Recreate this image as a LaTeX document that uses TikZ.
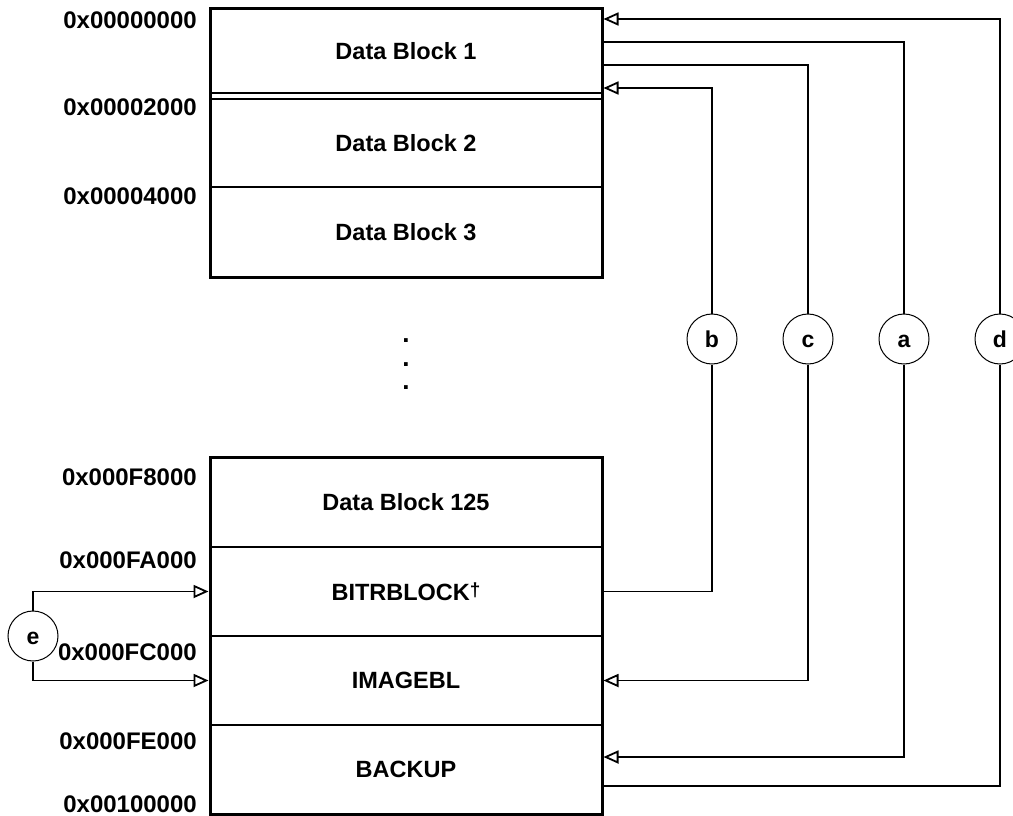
\documentclass[tikz,border=0pt]{standalone}
\usepackage{fontspec}
\setmainfont{Liberation Sans}
\usepackage{tikz}
\usetikzlibrary{positioning,calc,arrows.meta}

\tikzset{
	blk/.style={draw=black,line width=1.5pt,minimum width=392pt,inner sep=0pt,outer sep=0pt,font=\bfseries\fontsize{23.5}{27}\selectfont},
	addr/.style={anchor=east,inner sep=0pt,font=\bfseries\fontsize{24}{28}\selectfont},
	tag/.style={draw=black,circle,line width=1pt,minimum size=50pt,inner sep=0pt,text height=16pt,text depth=0pt,font=\bfseries\fontsize{23}{27}\selectfont},
	dot/.style={inner sep=0pt,font=\bfseries\fontsize{26}{26}\selectfont},
	frame/.style={line width=3pt},
	link/.style={line width=1.2pt},
	linkarr/.style={line width=1.2pt,-{Triangle[open,length=15pt,width=13pt,line width=1.8pt]}}
}

\begin{document}
\begin{tikzpicture}[x=1pt,y=-1pt]
		\useasboundingbox (0,0) rectangle (1013,816);
		
		\node[blk,minimum height=84pt,anchor=north west] (db1) at (210,9) {Data Block 1};
		\node[blk,minimum height=88pt,below=6pt of db1] (db2) {Data Block 2};
		\node[blk,minimum height=90pt,below=0pt of db2] (db3) {Data Block 3};
		
		\draw[frame] (db1.north west) rectangle (db3.south east);
		
		\node[dot] (dot1) at (406,341) {.};
		\node[dot,below=19pt of dot1] (dot2) {.};
		\node[dot,below=19pt of dot2] (dot3) {.};
		
		\node[blk,minimum height=90pt,anchor=north west] (db125) at (210,457) {Data Block 125};
		\node[blk,minimum height=89pt,below=0pt of db125] (bitr) {BITRBLOCK\raisebox{4pt}{\fontsize{19}{19}\selectfont\textdagger}};
		\node[blk,minimum height=89pt,below=0pt of bitr] (imgbl) {IMAGEBL};
		\node[blk,minimum height=89pt,below=0pt of imgbl] (backup) {BACKUP};
		
		\draw[frame] (db125.north west) rectangle (backup.south east);
		
		% addresses
		\node[addr] (ad0) at (197,20) {0x00000000};
		\node[addr] (ad1) at (197,107) {0x00002000};
		\node[addr] (ad2) at (197,196) {0x00004000};
		\node[addr] (ad3) at (197,477) {0x000F8000};
		\node[addr] (ad4) at (197,560) {0x000FA000};
		\node[addr] (ad5) at (197,652) {0x000FC000};
		\node[addr] (ad6) at (197,741) {0x000FE000};
		\node[addr] (ad7) at (197,804) {0x00100000};
		
		% tags
		\node[tag] (b) at (712,339) {b};
		\node[tag] (c) at (808,339) {c};
		\node[tag] (a) at (904,339) {a};
		\node[tag] (d) at (1000,339) {d};
		\node[tag] (e) at (33,636) {e};
		
		\coordinate (d in) at ($(db1.north east)+(1.5,10)$);
		\coordinate (a out) at ($(db1.north east)+(1.5,33)$);
		\coordinate (c out) at ($(db1.north east)+(1.5,56)$);
		\coordinate (b in) at ($(db1.north east)+(1.5,79)$);
		\coordinate (b out) at ($(bitr.east)+(1.5,0)$);
		\coordinate (c in) at ($(imgbl.east)+(1.5,0)$);
		\coordinate (a in) at ($(backup.east)+(1.5,-12.5)$);
		\coordinate (d out) at ($(backup.east)+(1.5,16.5)$);
		\coordinate (e top) at ($(bitr.west)+(-1.5,0)$);
		\coordinate (e bot) at ($(imgbl.west)+(-1.5,0)$);
		
		\draw[link] (b out) -| (b);
		\draw[linkarr] (b) |- (b in);
		\draw[link] (c out) -| (c);
		\draw[linkarr] (c) |- (c in);
		\draw[link] (a out) -| (a);
		\draw[linkarr] (a) |- (a in);
		\draw[link] (d out) -| (d);
		\draw[linkarr] (d) |- (d in);
		\draw[linkarr] (e) |- (e top);
		\draw[linkarr] (e) |- (e bot);
	\end{tikzpicture}
\end{document}
